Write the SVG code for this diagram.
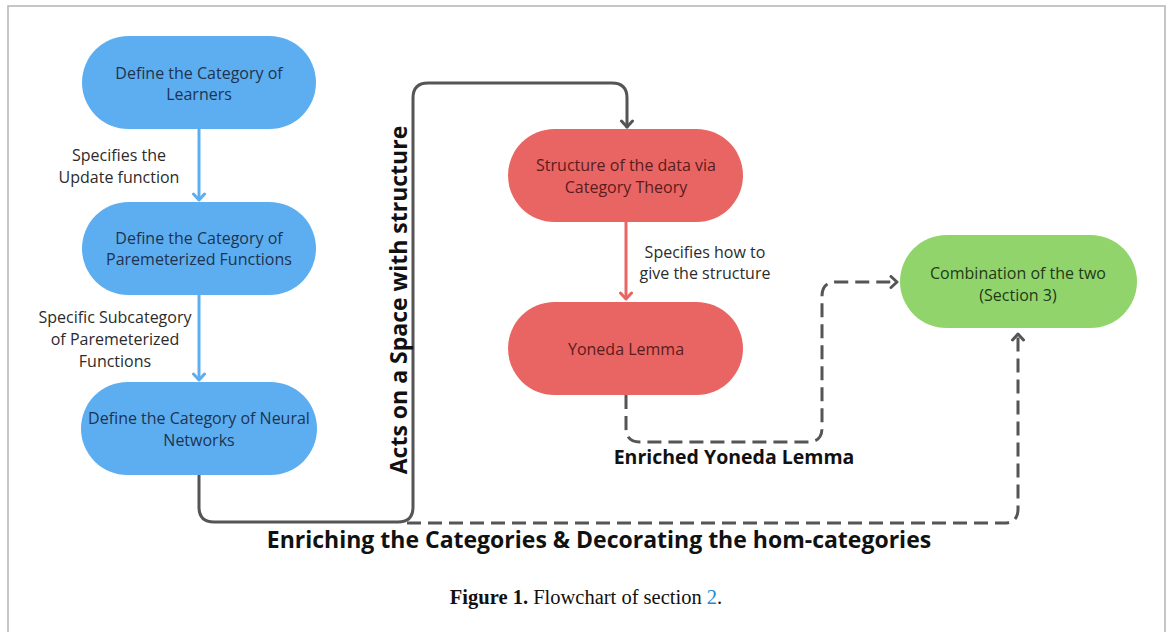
<svg xmlns="http://www.w3.org/2000/svg" width="1171" height="632" viewBox="0 0 1171 632">
<defs>
<style>
.frame{fill:none;stroke:#b4b4b4;stroke-width:1.5}
.blue{fill:#5caef0}
.red{fill:#e96563}
.green{fill:#92d46c}
.tb{font-family:"Open Sans","Liberation Sans",sans-serif;font-size:16px;fill:#1e3350;text-anchor:middle}
.tr{font-family:"Open Sans","Liberation Sans",sans-serif;font-size:16px;fill:#5a1c1c;text-anchor:middle}
.tg{font-family:"Open Sans","Liberation Sans",sans-serif;font-size:16px;fill:#1f3a17;text-anchor:middle}
.lab{font-family:"Open Sans","Liberation Sans",sans-serif;font-size:16px;fill:#2b2b2b;text-anchor:middle}
.big{font-family:"Open Sans","Liberation Sans",sans-serif;font-weight:bold;fill:#111;text-anchor:middle}
.cap{font-family:"Liberation Serif","Times New Roman",serif;font-size:20.5px;fill:#111}
.solid{fill:none;stroke:#555;stroke-width:3;stroke-linejoin:round;stroke-linecap:round}
.dash{fill:none;stroke:#555;stroke-width:3;stroke-dasharray:14 7}
.ablue{fill:none;stroke:#5caef0;stroke-width:3}
.ared{fill:none;stroke:#e96563;stroke-width:3}
</style>
<marker id="hBlue" viewBox="-8 -7 10 14" markerWidth="10" markerHeight="14" refX="0" refY="0" orient="auto" markerUnits="userSpaceOnUse">
<path d="M-6,-5.5 L0,0 L-6,5.5" fill="none" stroke="#5caef0" stroke-width="3" stroke-linecap="round" stroke-linejoin="round"/>
</marker>
<marker id="hRed" viewBox="-8 -7 10 14" markerWidth="10" markerHeight="14" refX="0" refY="0" orient="auto" markerUnits="userSpaceOnUse">
<path d="M-6,-5.5 L0,0 L-6,5.5" fill="none" stroke="#e96563" stroke-width="3" stroke-linecap="round" stroke-linejoin="round"/>
</marker>
<marker id="hGray" viewBox="-8 -7 10 14" markerWidth="10" markerHeight="14" refX="0" refY="0" orient="auto" markerUnits="userSpaceOnUse">
<path d="M-6,-5.5 L0,0 L-6,5.5" fill="none" stroke="#555" stroke-width="3" stroke-linecap="round" stroke-linejoin="round"/>
</marker>
</defs>
<rect width="1171" height="632" fill="#ffffff"/>
<path class="frame" d="M8,632 L8,6 L1165,6 L1165,632"/>

<g id="connectors">
<line class="ablue" x1="199" y1="129" x2="199" y2="200" marker-end="url(#hBlue)"/>
<line class="ablue" x1="199" y1="295" x2="199" y2="380" marker-end="url(#hBlue)"/>
<line class="ared" x1="626" y1="222" x2="626" y2="299" marker-end="url(#hRed)"/>
<path class="solid" d="M199,475 L199,507 Q199,522 214,522 L398,522 Q413,522 413,507 L413,98 Q413,83 428,83 L612,83 Q627,83 627,98 L627,127" marker-end="url(#hGray)"/>
<path class="dash" d="M626,395 L626,428 Q626,442 640,442 L808,442 Q822,442 822,428 L822,296 Q822,282 836,282 L897,282" marker-end="url(#hGray)"/>
<path class="dash" d="M407,523 L1004,523 Q1018,523 1018,509 L1018,334" marker-end="url(#hGray)"/>
</g>

<g id="n1">
<rect class="blue" x="82" y="36" width="234" height="93" rx="46.5"/>
<text class="tb" x="199" y="78.5">Define the Category of</text>
<text class="tb" x="199" y="99.5">Learners</text>
</g>
<g id="n2">
<rect class="blue" x="82" y="202" width="234" height="93" rx="46.5"/>
<text class="tb" x="199" y="243.5">Define the Category of</text>
<text class="tb" x="199" y="264.5">Paremeterized Functions</text>
</g>
<g id="n3">
<rect class="blue" x="81" y="382" width="236" height="93" rx="46.5"/>
<text class="tb" x="199" y="423.5" font-size="16.5">Define the Category of Neural</text>
<text class="tb" x="199" y="445.5">Networks</text>
</g>
<g id="n4">
<rect class="red" x="508" y="129" width="235" height="93" rx="46.5"/>
<text class="tr" x="626" y="170.5">Structure of the data via</text>
<text class="tr" x="626" y="192.5">Category Theory</text>
</g>
<g id="n5">
<rect class="red" x="508" y="302" width="235" height="93" rx="46.5"/>
<text class="tr" x="626" y="354.5">Yoneda Lemma</text>
</g>
<g id="n6">
<rect class="green" x="900" y="235" width="237" height="93" rx="46.5"/>
<text class="tg" x="1018" y="278.5">Combination of the two</text>
<text class="tg" x="1018" y="300.5">(Section 3)</text>
</g>

<g id="labels">
<text class="lab" x="119" y="160.5">Specifies the</text>
<text class="lab" x="119" y="182.5">Update function</text>
<text class="lab" x="115" y="322.5">Specific Subcategory</text>
<text class="lab" x="115" y="344.5">of Paremeterized</text>
<text class="lab" x="115" y="366.5">Functions</text>
<text class="lab" x="705" y="257.5">Specifies how to</text>
<text class="lab" x="705" y="278.5">give the structure</text>
<text class="big" font-size="19.5" x="734" y="463.5">Enriched Yoneda Lemma</text>
<text class="big" font-size="23" transform="translate(407,300) rotate(-90)" x="0" y="0">Acts on a Space with structure</text>
<text class="big" font-size="23" x="599" y="548">Enriching the Categories &amp; Decorating the hom-categories</text>
</g>

<text class="cap" x="586" y="604" text-anchor="middle"><tspan font-weight="bold">Figure 1.</tspan> Flowchart of section <tspan fill="#1a8ad4">2</tspan>.</text>
</svg>
